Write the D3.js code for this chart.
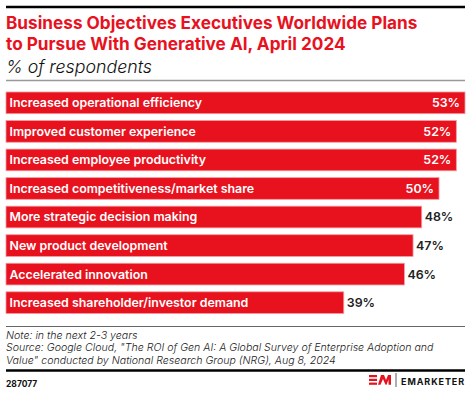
<!DOCTYPE html>
<meta charset="utf-8">
<script src="https://d3js.org/d3.v7.min.js"></script>
<style>
  body { margin: 0; background: #fff; }
  text { font-family: Inter, "Noto Sans", sans-serif; }
</style>
<div id="chart"></div>
<script>
// data
var categories = [
  "Increased operational efficiency",
  "Improved customer experience",
  "Increased employee productivity",
  "Increased competitiveness/market share",
  "More strategic decision making",
  "New product development",
  "Accelerated innovation",
  "Increased shareholder/investor demand"
];
var values = [53, 52, 52, 50, 48, 47, 46, 39];

var titleLines = [
  "Business Objectives Executives Worldwide Plans",
  "to Pursue With Generative AI, April 2024"
];
var subtitle = "% of respondents";
var noteLines = [
  "Note: in the next 2-3 years",
  "Source: Google Cloud, \"The ROI of Gen AI: A Global Survey of Enterprise Adoption and",
  "Value\" conducted by National Research Group (NRG), Aug 8, 2024"
];
var chartId = "287077";

var W = 470, H = 396;
var red = "#e8111e";

var svg = d3.select("#chart").append("svg")
    .attr("width", W)
    .attr("height", H);

// top rule
svg.append("line")
    .attr("x1", 6).attr("x2", 465)
    .attr("y1", 7).attr("y2", 7)
    .attr("stroke", "#000").attr("stroke-width", 2.5);

// title
svg.selectAll(".title")
  .data(titleLines)
  .enter().append("text")
    .attr("class", "title")
    .attr("x", 6)
    .attr("y", function(d, i) { return 28.5 + i * 21; })
    .attr("fill", red)
    .style("font-size", "17.2px")
    .style("font-weight", 700)
    .text(function(d) { return d; });

svg.append("text")
    .attr("x", 6).attr("y", 73)
    .style("font-size", "17.8px")
    .style("font-style", "italic")
    .style("font-weight", 300)
    .attr("fill", "#111")
    .text(subtitle);

svg.append("line")
    .attr("x1", 6).attr("x2", 465)
    .attr("y1", 80.5).attr("y2", 80.5)
    .attr("stroke", "#999").attr("stroke-width", 1.5);

// scales
var x = d3.scaleLinear()
    .domain([0, 53])
    .range([6, 465]);

var y = d3.scaleBand()
    .domain(categories)
    .range([92, 313.5])
    .paddingInner(0.24)
    .paddingOuter(0);

var rows = categories.map(function(c, i) { return {cat: c, val: values[i]}; });

var bar = svg.selectAll(".bar")
  .data(rows)
  .enter().append("g")
    .attr("class", "bar");

bar.append("rect")
    .attr("x", x(0))
    .attr("y", function(d) { return y(d.cat); })
    .attr("width", function(d) { return x(d.val) - x(0); })
    .attr("height", y.bandwidth())
    .attr("fill", red)
    .attr("stroke", "#f59aa0")
    .attr("stroke-width", 0.8);

bar.append("text")
    .attr("x", x(0) + 3.5)
    .attr("y", function(d) { return y(d.cat) + y.bandwidth() / 2; })
    .attr("dy", "0.36em")
    .attr("fill", "#fff")
    .style("font-size", "12.4px")
    .style("font-weight", 600)
    .text(function(d) { return d.cat; });

// value labels: inside for the long bars, outside for the rest
bar.append("text")
    .attr("x", function(d) { return d.val >= 50 ? x(d.val) - 5 : x(d.val) + 3; })
    .attr("y", function(d) { return y(d.cat) + y.bandwidth() / 2; })
    .attr("dy", "0.36em")
    .attr("text-anchor", function(d) { return d.val >= 50 ? "end" : "start"; })
    .attr("fill", function(d) { return d.val >= 50 ? "#fff" : "#222"; })
    .style("font-size", "12.4px")
    .style("font-weight", 600)
    .text(function(d) { return d.val + "%"; });

// footer
svg.append("line")
    .attr("x1", 6).attr("x2", 465)
    .attr("y1", 326.5).attr("y2", 326.5)
    .attr("stroke", "#666").attr("stroke-width", 1);

svg.selectAll(".note")
  .data(noteLines)
  .enter().append("text")
    .attr("class", "note")
    .attr("x", 6)
    .attr("y", function(d, i) { return 338.5 + i * 12.5; })
    .attr("fill", "#222")
    .style("font-size", "10.6px")
    .style("font-style", "italic")
    .style("font-weight", 300)
    .text(function(d) { return d; });

svg.append("line")
    .attr("x1", 6).attr("x2", 465)
    .attr("y1", 370.5).attr("y2", 370.5)
    .attr("stroke", "#000").attr("stroke-width", 2.5);

svg.append("text")
    .attr("x", 6).attr("y", 387)
    .attr("fill", "#111")
    .style("font-size", "8.5px")
    .style("font-weight", 700)
    .text(chartId);

// logo
var logo = svg.append("g").attr("transform", "translate(369,375)");
logo.append("rect").attr("x", 0).attr("y", 0).attr("width", 8).attr("height", 2.2).attr("fill", red);
logo.append("rect").attr("x", 0).attr("y", 3.8).attr("width", 8).attr("height", 2.2).attr("fill", red);
logo.append("rect").attr("x", 0).attr("y", 7.6).attr("width", 8).attr("height", 2.2).attr("fill", red);
logo.append("path")
    .attr("d", "M9,9.8 L12,0 L15,0 L17,5 L19,0 L22,0 L22,9.8 L19.5,9.8 L19.5,4.5 L17.5,9.8 L16.5,9.8 L14,4 L11.5,9.8 Z")
    .attr("fill", red);
logo.append("line")
    .attr("x1", 27).attr("x2", 27)
    .attr("y1", -2).attr("y2", 12)
    .attr("stroke", "#333").attr("stroke-width", 0.8);
svg.append("text")
    .attr("x", 465).attr("y", 384.5)
    .attr("text-anchor", "end")
    .attr("fill", "#111")
    .style("font-size", "9px")
    .style("font-weight", 700)
    .style("letter-spacing", "0.9px")
    .text("EMARKETER");
</script>
